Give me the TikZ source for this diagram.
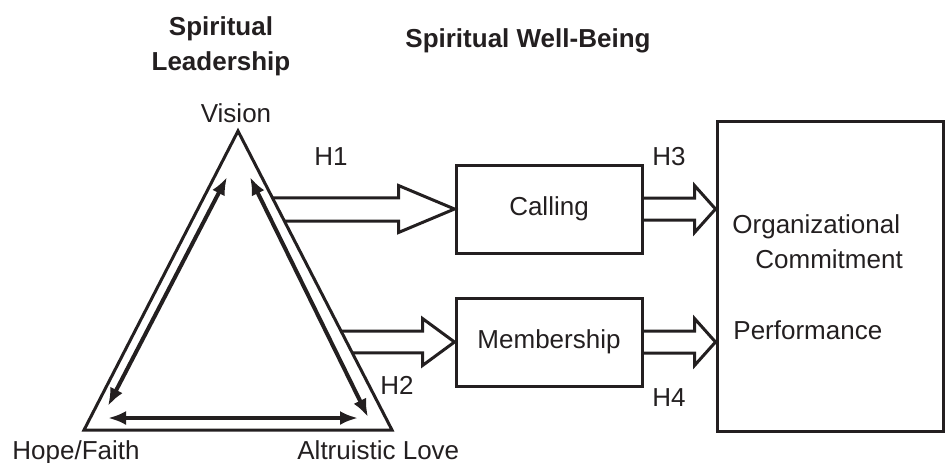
\documentclass[tikz,border=0pt]{standalone}
\usepackage{fontspec}
\setmainfont{Liberation Sans}
\usepackage{tikz}
\usetikzlibrary{arrows.meta, calc}
\definecolor{inkdark}{RGB}{35, 31, 32}
\newcommand{\diagfont}{\fontsize{13}{17.5}\selectfont}
\tikzset{
    tri/.style    ={draw=inkdark, line width=1.5pt},
    box/.style    ={draw=inkdark, line width=1.5pt, minimum width=93pt,
                    minimum height=44pt, inner sep=0pt, font=\diagfont, text=inkdark},
    bigbox/.style ={draw=inkdark, line width=1.5pt, minimum width=113pt,
                    minimum height=155pt, inner sep=0pt},
    hollow/.style ={draw=inkdark, line width=1.5pt},
    dbl/.style    ={{Latex[length=9pt, width=7pt]}-{Latex[length=9pt, width=7pt]},
                    line width=2pt, draw=inkdark},
    lbl/.style    ={font=\diagfont, text=inkdark, inner sep=0pt},
    ttl/.style    ={lbl, font=\diagfont\bfseries, align=center}
}
% hollow block arrow: top start, bottom start, tip, head length
\newcommand{\fatarrow}[4]{%
  \draw[hollow] (#1) -- ($(#1 -| #3)+(-#4,0)$) -- ($(#3)+(-#4,-23.5)$) -- (#3)
        -- ($(#3)+(-#4,23.5)$) -- ($(#2 -| #3)+(-#4,0)$) -- (#2);}

\begin{document}
\begin{tikzpicture}[x=0.5pt, y=-0.5pt]
  \useasboundingbox (0,0) rectangle (945,462);

  % titles
  \node[ttl, anchor=base] (sltitle) at (221,70) {Spiritual\\Leadership};
  \node[ttl, anchor=base west] (swtitle) at (405,47) {Spiritual Well-Being};

  % leadership triangle
  \coordinate (vis)  at (238,131);
  \coordinate (hope) at (84,430);
  \coordinate (love) at (392,430);
  \draw[tri] (vis) -- (love) -- (hope) -- cycle;
  \node[lbl, anchor=base] (vislbl) at (236,122) {Vision};
  \node[lbl, anchor=base west] (hopelbl) at (12,459) {Hope/Faith};
  \node[lbl, anchor=base west] (lovelbl) at (297,459) {Altruistic Love};

  % links between the three corners
  \coordinate (hv1) at ($(hope)+(24,-24)$);
  \coordinate (hv2) at ($(vis)+(-11,46)$);
  \coordinate (vl1) at ($(vis)+(12,46)$);
  \coordinate (vl2) at ($(love)+(-24,-13)$);
  \coordinate (hl1) at ($(hope)+(24,-12)$);
  \coordinate (hl2) at ($(love)+(-34,-12)$);
  \draw[dbl] (hv1) -- (hv2);
  \draw[dbl] (vl1) -- (vl2);
  \draw[dbl] (hl1) -- (hl2);

  % well-being and outcomes
  \node[box] (calling) at (549,209) {Calling};
  \node[box] (member)  at (549,342) {Membership};
  \node[bigbox] (oc) at (830,276) {};
  \node[lbl, anchor=base west] (orglbl)  at (732,233) {Organizational};
  \node[lbl, anchor=base west] (comlbl)  at (755,268) {Commitment};
  \node[lbl, anchor=base west] (perflbl) at (733,339) {Performance};

  % hypotheses
  \coordinate (h1a) at ($(vis)!0.224!(love)$);
  \coordinate (h1b) at ($(vis)!0.301!(love)$);
  \coordinate (h2a) at ($(vis)!0.669!(love)$);
  \coordinate (h2b) at ($(vis)!0.742!(love)$);
  \coordinate (h3a) at ($(calling.east)+(0,-11)$);
  \coordinate (h3b) at ($(calling.east)+(0,11)$);
  \coordinate (h4a) at ($(member.east)+(0,-11)$);
  \coordinate (h4b) at ($(member.east)+(0,11)$);
  \coordinate (h3tip) at (calling.east -| oc.west);
  \coordinate (h4tip) at (member.east -| oc.west);
  \fatarrow{h1a}{h1b}{calling.west}{56}
  \fatarrow{h2a}{h2b}{member.west}{32}
  \fatarrow{h3a}{h3b}{h3tip}{21}
  \fatarrow{h4a}{h4b}{h4tip}{21}
  \node[lbl, anchor=base] (h1) at (331,165) {H1};
  \node[lbl, anchor=base] (h2) at (397,394) {H2};
  \node[lbl, anchor=base] (h3) at (669,165) {H3};
  \node[lbl, anchor=base] (h4) at (669,406) {H4};
\end{tikzpicture}
\end{document}
